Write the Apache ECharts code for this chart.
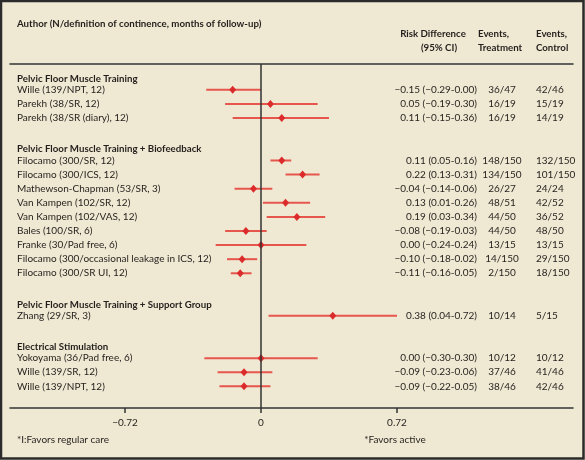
<!DOCTYPE html>
<html><head><meta charset="utf-8">
<script src="https://cdn.jsdelivr.net/npm/echarts@6/dist/echarts.min.js"></script>
<style>html,body{margin:0;padding:0;background:#efe8d3}#c{width:585px;height:460px}</style>
</head><body><div id="c"></div>
<script>
// ---------- data ----------
const groupNames = [
  'Pelvic Floor Muscle Training',
  'Pelvic Floor Muscle Training + Biofeedback',
  'Pelvic Floor Muscle Training + Support Group',
  'Electrical Stimulation'
];
const studyGroup = [0,0,0, 1,1,1,1,1,1,1,1,1, 2, 3,3,3];
const studies = [
  'Wille (139/NPT, 12)',
  'Parekh (38/SR, 12)',
  'Parekh (38/SR (diary), 12)',
  'Filocamo (300/SR, 12)',
  'Filocamo (300/ICS, 12)',
  'Mathewson-Chapman (53/SR, 3)',
  'Van Kampen (102/SR, 12)',
  'Van Kampen (102/VAS, 12)',
  'Bales (100/SR, 6)',
  'Franke (30/Pad free, 6)',
  'Filocamo (300/occasional leakage in ICS, 12)',
  'Filocamo (300/SR UI, 12)',
  'Zhang (29/SR, 3)',
  'Yokoyama (36/Pad free, 6)',
  'Wille (139/SR, 12)',
  'Wille (139/NPT, 12)'
];
const riskDiff = [-0.15, 0.05, 0.11, 0.11, 0.22, -0.04, 0.13, 0.19, -0.08, 0.00, -0.10, -0.11, 0.38, 0.00, -0.09, -0.09];
const ciLow    = [-0.29, -0.19, -0.15, 0.05, 0.13, -0.14, 0.01, 0.03, -0.19, -0.24, -0.18, -0.16, 0.04, -0.30, -0.23, -0.22];
const ciHigh   = [0.00, 0.30, 0.36, 0.16, 0.31, 0.06, 0.26, 0.34, 0.03, 0.24, -0.02, -0.05, 0.72, 0.30, 0.06, 0.05];
const ciText = [
  '\u22120.15 (\u22120.29-0.00)',
  '0.05 (\u22120.19-0.30)',
  '0.11 (\u22120.15-0.36)',
  '0.11 (0.05-0.16)',
  '0.22 (0.13-0.31)',
  '\u22120.04 (\u22120.14-0.06)',
  '0.13 (0.01-0.26)',
  '0.19 (0.03-0.34)',
  '\u22120.08 (\u22120.19-0.03)',
  '0.00 (\u22120.24-0.24)',
  '\u22120.10 (\u22120.18-0.02)',
  '\u22120.11 (\u22120.16-0.05)',
  '0.38 (0.04-0.72)',
  '0.00 (\u22120.30-0.30)',
  '\u22120.09 (\u22120.23-0.06)',
  '\u22120.09 (\u22120.22-0.05)'
];
const eventsTreatment = ['36/47','16/19','16/19','148/150','134/150','26/27','48/51','44/50','44/50','13/15','14/150','2/150','10/14','10/12','37/46','38/46'];
const eventsControl   = ['42/46','15/19','14/19','132/150','101/150','24/24','42/52','36/52','48/50','13/15','29/150','18/150','5/15','10/12','41/46','42/46'];
const xTicks = [-0.72, 0, 0.72];

// ---------- layout ----------
const FONT = 'Lato';
const FS = 10;
const FSB = 9.7;
const TXT = '#231f1c';
const HEAD_GAP = 0.79, GROUP_GAP = 2.22;
const rows = [];
let pos = 0, prevG = -1;
studies.forEach((s, i) => {
  const g = studyGroup[i];
  if (g !== prevG) {
    if (prevG >= 0) pos += GROUP_GAP;
    rows.push({ type: 'h', y: pos, g: g });
    pos += HEAD_GAP;
    prevG = g;
  } else {
    pos += 1;
  }
  rows.push({ type: 's', y: pos, i: i });
});
const forest = rows.filter(r => r.type === 's').map(r => [ciLow[r.i], ciHigh[r.i], riskDiff[r.i], r.y]);

const gridL = 10, gridR = 573, gridT = 64, gridB = 408;
const x0px = 261, pxPerUnit = (397 - 125) / 1.44;
const xMin = (gridL - x0px) / pxPerUnit, xMax = (gridR - x0px) / pxPerUnit;
const rowPx = 14.1, firstRowPx = 78.7;
const yMin = -(firstRowPx - gridT) / rowPx, yMax = (gridB - firstRowPx) / rowPx;

const fmt = v => v < 0 ? '\u2212' + (-v).toFixed(2) : (v === 0 ? '0' : v.toFixed(2));

const txt = (x, y, text, align, bold) => ({
  type: 'text', x: x, y: y, silent: true,
  style: { text: text, fontFamily: FONT, fontSize: bold ? FSB : FS, fontWeight: bold ? 'bold' : 'normal', fill: TXT, textAlign: align, textVerticalAlign: 'middle' }
});

const chart = echarts.init(document.getElementById('c'));
chart.setOption({
  backgroundColor: '#efe8d3',
  animation: false,
  textStyle: { fontFamily: FONT },
  grid: { left: gridL, right: 585 - gridR, top: gridT, bottom: 460 - gridB },
  xAxis: [{
    type: 'value', min: xMin, max: xMax, position: 'bottom',
    axisLine: { show: true, onZero: false, lineStyle: { color: '#333', width: 1.5 } },
    axisTick: { show: true, customValues: xTicks, length: 5, inside: false, lineStyle: { color: '#333', width: 1.5 } },
    axisLabel: { show: true, customValues: xTicks, formatter: fmt, color: TXT, fontSize: FS, fontFamily: FONT, margin: 10 },
    splitLine: { show: false }
  }, {
    type: 'value', min: xMin, max: xMax, position: 'top',
    axisLine: { show: true, onZero: false, lineStyle: { color: '#333', width: 1.5 } },
    axisTick: { show: false }, axisLabel: { show: false }, splitLine: { show: false }
  }],
  yAxis: { type: 'value', inverse: true, min: yMin, max: yMax, show: false },
  series: [{
    type: 'custom',
    silent: true,
    data: forest,
    markLine: {
      silent: true, symbol: 'none', label: { show: false },
      lineStyle: { color: '#333', width: 1.5, type: 'solid' },
      data: [{ xAxis: 0 }]
    },
    renderItem: function (params, api) {
      const lo = api.coord([api.value(0), api.value(3)]);
      const hi = api.coord([api.value(1), api.value(3)]);
      const pt = api.coord([api.value(2), api.value(3)]);
      const w = 3.5, h = 4;
      return {
        type: 'group',
        children: [{
          type: 'line',
          shape: { x1: lo[0], y1: lo[1], x2: hi[0], y2: hi[1] },
          style: { stroke: '#e6564c', lineWidth: 2 }
        }, {
          type: 'polygon',
          shape: { points: [[pt[0] - w, pt[1]], [pt[0], pt[1] - h], [pt[0] + w, pt[1]], [pt[0], pt[1] + h]] },
          style: { fill: '#dc2b2b' }
        }]
      };
    }
  }, {
    type: 'custom',
    silent: true,
    data: rows.map(r => [r.y]),
    renderItem: function (params, api) {
      const r = rows[params.dataIndex];
      const y = api.coord([0, api.value(0)])[1];
      if (r.type === 'h') return txt(17, y, groupNames[r.g], 'left', true);
      return {
        type: 'group',
        children: [
          txt(17, y, studies[r.i], 'left'),
          txt(477, y, ciText[r.i], 'right'),
          txt(502, y, eventsTreatment[r.i], 'center'),
          txt(536, y, eventsControl[r.i], 'left')
        ]
      };
    }
  }],
  graphic: [
    { type: 'rect', shape: { x: 1, y: 1, width: 582.5, height: 457.5 }, style: { fill: null, stroke: '#2b2b2b', lineWidth: 2.5 }, silent: true },
    txt(17, 24, 'Author (N/definition of continence, months of follow-up)', 'left', true),
    txt(433, 34, 'Risk Difference', 'center', true),
    txt(439, 48, '(95% CI)', 'center', true),
    txt(478, 34, 'Events,', 'left', true),
    txt(478, 48, 'Treatment', 'left', true),
    txt(536, 34, 'Events,', 'left', true),
    txt(536, 48, 'Control', 'left', true),
    txt(17, 440, '*I:Favors regular care', 'left'),
    txt(395, 440, '*Favors active', 'center')
  ]
});
</script>
</body></html>
